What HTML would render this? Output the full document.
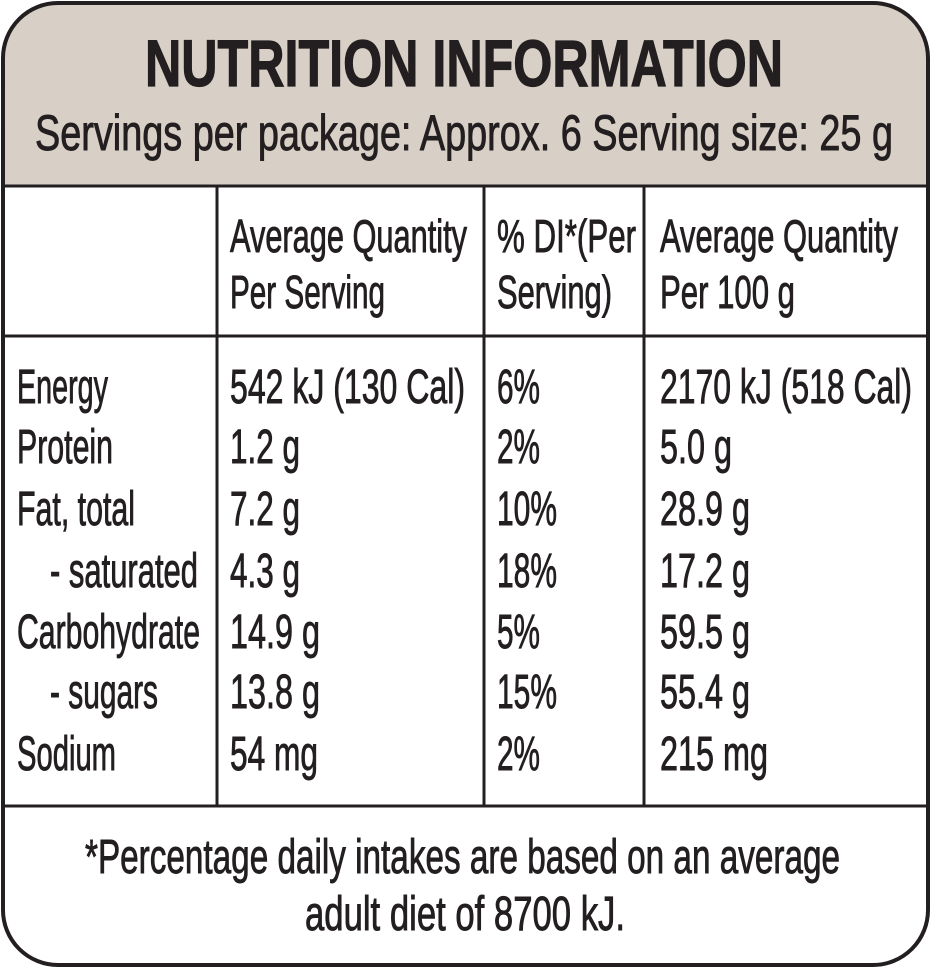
<!DOCTYPE html>
<html><head><meta charset="utf-8"><style>
html,body{margin:0;padding:0;background:#fff;}
svg{display:block}
text{font-family:"Liberation Sans Narrow","Liberation Sans",sans-serif;fill:#231f20;stroke:#231f20;stroke-width:0.9}
</style></head><body>
<svg width="931" height="968" viewBox="0 0 931 968" xmlns="http://www.w3.org/2000/svg">
<defs><clipPath id="c"><rect x="3" y="3" width="925" height="962" rx="55"/></clipPath></defs>
<g clip-path="url(#c)">
<rect x="0" y="0" width="931" height="186" fill="#d8cfc6"/>
</g>
<rect x="3" y="3" width="925" height="962" rx="55" fill="none" stroke="#231f20" stroke-width="4"/>
<line x1="3" y1="186" x2="928" y2="186" stroke="#231f20" stroke-width="3"/>
<line x1="3" y1="336" x2="928" y2="336" stroke="#231f20" stroke-width="3"/>
<line x1="3" y1="806" x2="928" y2="806" stroke="#231f20" stroke-width="3"/>
<line x1="217" y1="186" x2="217" y2="806" stroke="#231f20" stroke-width="3"/>
<line x1="484" y1="186" x2="484" y2="806" stroke="#231f20" stroke-width="3"/>
<line x1="644" y1="186" x2="644" y2="806" stroke="#231f20" stroke-width="3"/>
<g>
<text x="145" y="86" font-size="66" font-weight="bold" style="stroke-width:1.2" textLength="638" lengthAdjust="spacingAndGlyphs">NUTRITION INFORMATION</text>
<text x="35" y="150" font-size="50" textLength="858" lengthAdjust="spacingAndGlyphs">Servings per package: Approx. 6  Serving size: 25 g</text>

<g font-size="46">
<text x="230" y="252" textLength="237" lengthAdjust="spacingAndGlyphs">Average Quantity</text>
<text x="230" y="308" textLength="155" lengthAdjust="spacingAndGlyphs">Per Serving</text>
<text x="497" y="252" textLength="139" lengthAdjust="spacingAndGlyphs">% DI*(Per</text>
<text x="497" y="308" textLength="115" lengthAdjust="spacingAndGlyphs">Serving)</text>
<text x="660" y="252" textLength="238" lengthAdjust="spacingAndGlyphs">Average Quantity</text>
<text x="660" y="308" textLength="135" lengthAdjust="spacingAndGlyphs">Per 100 g</text>
</g>

<g font-size="48">
<text x="17" y="403" textLength="91" lengthAdjust="spacingAndGlyphs">Energy</text>
<text x="17" y="463" textLength="96" lengthAdjust="spacingAndGlyphs">Protein</text>
<text x="17" y="525" textLength="118" lengthAdjust="spacingAndGlyphs">Fat, total</text>
<text x="50" y="587" textLength="148" lengthAdjust="spacingAndGlyphs">- saturated</text>
<text x="17" y="648" textLength="183" lengthAdjust="spacingAndGlyphs">Carbohydrate</text>
<text x="50" y="708" textLength="108" lengthAdjust="spacingAndGlyphs">- sugars</text>
<text x="17" y="770" textLength="99" lengthAdjust="spacingAndGlyphs">Sodium</text>

<text x="230" y="403" textLength="235" lengthAdjust="spacingAndGlyphs">542 kJ (130 Cal)</text>
<text x="230" y="463" textLength="70" lengthAdjust="spacingAndGlyphs">1.2 g</text>
<text x="230" y="525" textLength="70" lengthAdjust="spacingAndGlyphs">7.2 g</text>
<text x="230" y="587" textLength="70" lengthAdjust="spacingAndGlyphs">4.3 g</text>
<text x="230" y="648" textLength="90" lengthAdjust="spacingAndGlyphs">14.9 g</text>
<text x="230" y="708" textLength="90" lengthAdjust="spacingAndGlyphs">13.8 g</text>
<text x="230" y="770" textLength="88" lengthAdjust="spacingAndGlyphs">54 mg</text>

<text x="497" y="403" textLength="43" lengthAdjust="spacingAndGlyphs">6%</text>
<text x="497" y="463" textLength="43" lengthAdjust="spacingAndGlyphs">2%</text>
<text x="497" y="525" textLength="60" lengthAdjust="spacingAndGlyphs">10%</text>
<text x="497" y="587" textLength="60" lengthAdjust="spacingAndGlyphs">18%</text>
<text x="497" y="648" textLength="43" lengthAdjust="spacingAndGlyphs">5%</text>
<text x="497" y="708" textLength="60" lengthAdjust="spacingAndGlyphs">15%</text>
<text x="497" y="770" textLength="43" lengthAdjust="spacingAndGlyphs">2%</text>

<text x="660" y="403" textLength="252" lengthAdjust="spacingAndGlyphs">2170 kJ (518 Cal)</text>
<text x="660" y="463" textLength="72" lengthAdjust="spacingAndGlyphs">5.0 g</text>
<text x="660" y="525" textLength="90" lengthAdjust="spacingAndGlyphs">28.9 g</text>
<text x="660" y="587" textLength="90" lengthAdjust="spacingAndGlyphs">17.2 g</text>
<text x="660" y="648" textLength="90" lengthAdjust="spacingAndGlyphs">59.5 g</text>
<text x="660" y="708" textLength="90" lengthAdjust="spacingAndGlyphs">55.4 g</text>
<text x="660" y="770" textLength="108" lengthAdjust="spacingAndGlyphs">215 mg</text>

<text x="85" y="873" textLength="755" lengthAdjust="spacingAndGlyphs">*Percentage daily intakes are based on an average</text>
<text x="305" y="930" textLength="320" lengthAdjust="spacingAndGlyphs">adult diet of 8700 kJ.</text>
</g>
</g>
</svg>
</body></html>
